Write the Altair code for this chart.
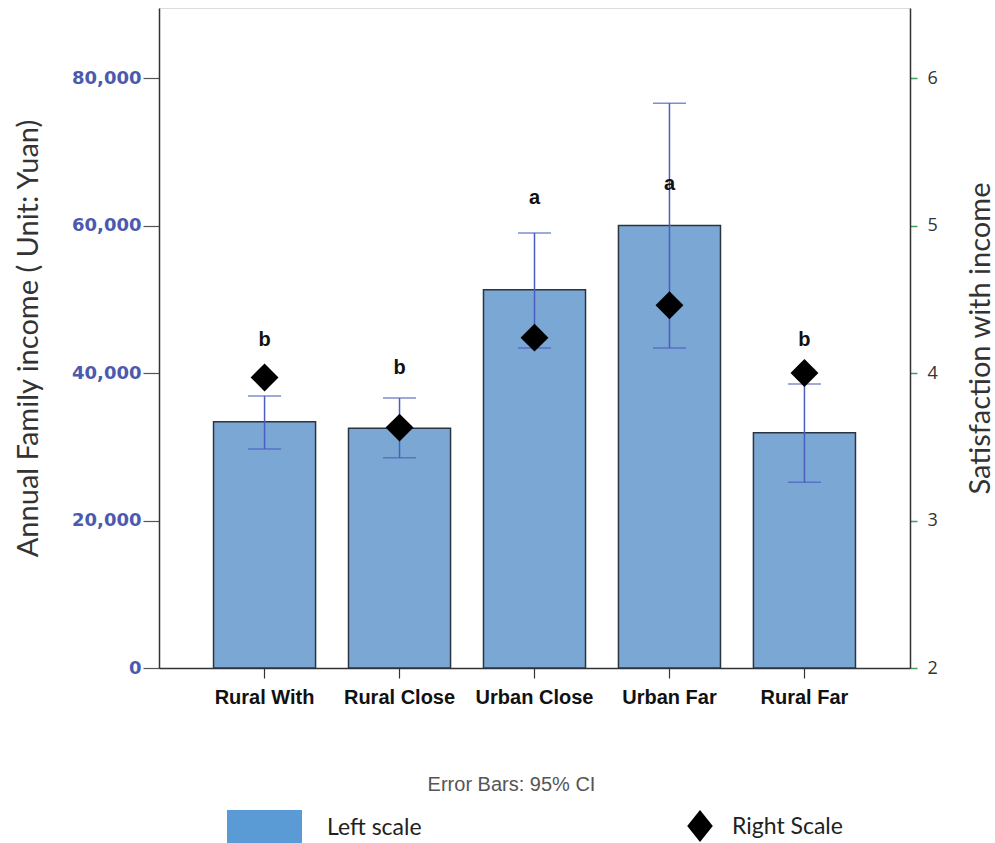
import altair as alt
import pandas as pd

categories = ["Rural With", "Rural Close", "Urban Close", "Urban Far", "Rural Far"]
income = [33400, 32500, 51300, 60000, 31900]
ci_low = [29700, 28500, 43400, 43400, 25200]
ci_high = [36900, 36600, 59000, 76600, 38500]
satisfaction = [3.97, 3.63, 4.24, 4.46, 4.00]
letters = ["b", "b", "a", "a", "b"]
letter_pos = [44500, 40700, 63700, 65600, 44500]
legend_labels = ["Left scale", "Right Scale"]
left_ticks = [0, 20000, 40000, 60000, 80000]
right_ticks = [2, 3, 4, 5, 6]

df = pd.DataFrame({
    "cat": categories, "income": income, "lo": ci_low, "hi": ci_high,
    "sat": satisfaction, "letter": letters, "lpos": letter_pos,
})

W, H = 751, 660
LEFT_DOMAIN = [0, 89500]
RIGHT_DOMAIN = [2, 6.475]

xenc = alt.X("cat:N", sort=categories,
             scale=alt.Scale(paddingInner=0.244, paddingOuter=0.404),
             axis=alt.Axis(title="Error Bars: 95% CI", labelAngle=0,
                           labelFont="Liberation Sans", labelFontWeight="bold",
                           labelFontSize=20, labelColor="#111", labelPadding=9,
                           tickSize=10, tickColor="#333", tickWidth=1.2,
                           domainColor="#333", domainWidth=1.5,
                           titleFont="Liberation Sans", titleFontSize=20,
                           titleFontWeight="normal", titleColor="#555",
                           titleX=352, titleAlign="center",
                           titlePadding=67))

yleft = alt.Scale(domain=LEFT_DOMAIN, nice=False, zero=True)
yright = alt.Scale(domain=RIGHT_DOMAIN, nice=False, zero=False)

left_axis = alt.Axis(title="Annual Family income ( Unit: Yuan)", values=left_ticks,
                     format=",.0f", orient="left", grid=False,
                     labelFont="DejaVu Sans", labelFontWeight="bold",
                     labelFontSize=18, labelColor="#4A5AAE", labelPadding=2,
                     tickSize=16, tickColor="#555", tickWidth=1.2,
                     domainColor="#333", domainWidth=1.5,
                     titleFont="Lato", titleFontSize=29, titleFontWeight="normal",
                     titleColor="#333", titlePadding=28)

bars = alt.Chart(df).mark_bar(fill="#7BA7D4", stroke="#2b3440", strokeWidth=1.5).encode(
    x=xenc,
    y=alt.Y("income:Q", scale=yleft, axis=left_axis),
)

err = alt.Chart(df).mark_rule(color="#4B5DBE", strokeWidth=1.5).encode(
    x=alt.X("cat:N", sort=categories), y=alt.Y("lo:Q", scale=yleft, axis=left_axis), y2="hi:Q")
cap_lo = alt.Chart(df).mark_tick(color="#4B5DBE", thickness=1.5, size=33).encode(
    x=alt.X("cat:N", sort=categories), y=alt.Y("lo:Q", scale=yleft, axis=left_axis))
cap_hi = alt.Chart(df).mark_tick(color="#4B5DBE", thickness=1.5, size=33).encode(
    x=alt.X("cat:N", sort=categories), y=alt.Y("hi:Q", scale=yleft, axis=left_axis))

txt = alt.Chart(df).mark_text(font="Liberation Sans", fontWeight="bold", fontSize=20,
                              color="#111", baseline="middle").encode(
    x=alt.X("cat:N", sort=categories), y=alt.Y("lpos:Q", scale=yleft, axis=left_axis),
    text="letter:N")

leg_df = pd.DataFrame({"label": legend_labels})
leg_rect = alt.Chart(leg_df.iloc[[0]]).mark_rect(fill="#5B9BD5").encode(
    x=alt.value(68), x2=alt.value(143), y=alt.value(802), y2=alt.value(850))
leg_t1 = alt.Chart(leg_df.iloc[[0]]).mark_text(font="Lato", fontSize=23, color="#222",
                                              align="left", baseline="middle").encode(
    x=alt.value(168), y=alt.value(820), text="label:N")
leg_t2 = alt.Chart(leg_df.iloc[[1]]).mark_text(font="Lato", fontSize=23, color="#222",
                                              align="left", baseline="middle").encode(
    x=alt.value(573), y=alt.value(819), text="label:N")
leg_d = alt.Chart(leg_df.iloc[[1]]).mark_point(
    shape="M0,-1L0.8,0L0,1L-0.8,0Z", filled=True, fill="black", opacity=1,
    size=1024).encode(x=alt.value(541), y=alt.value(818))

left_layer = alt.layer(bars, err, cap_lo, cap_hi, txt, leg_rect, leg_t1, leg_t2, leg_d)

diam = alt.Chart(df).mark_point(shape="diamond", filled=True, fill="black", opacity=1,
                                size=780).encode(
    x=alt.X("cat:N", sort=categories),
    y=alt.Y("sat:Q", scale=yright,
            axis=alt.Axis(title="Satisfaction with income", orient="right", values=right_ticks,
                          format="d", grid=False,
                          labelFont="Open Sans", labelFontSize=18, labelColor="#333",
                          labelPadding=10, tickSize=7, tickColor="#3BA062", tickWidth=1.5,
                          domainColor="#333", domainWidth=1.5,
                          titleFont="Lato", titleFontSize=29, titleFontWeight="normal",
                          titleColor="#333", titleAngle=270, titleBaseline="bottom",
                          titlePadding=58)),
)

chart = alt.layer(left_layer, diam).resolve_scale(y="independent").properties(
    width=W, height=H,
    autosize=alt.AutoSizeParams(type="none"),
    padding={"left": 159, "top": 8, "right": 85, "bottom": 175},
).configure_view(stroke="#333", strokeWidth=1.5).configure(background="white")

chart.save("out.html", embed_options={"renderer": "svg", "actions": False})
